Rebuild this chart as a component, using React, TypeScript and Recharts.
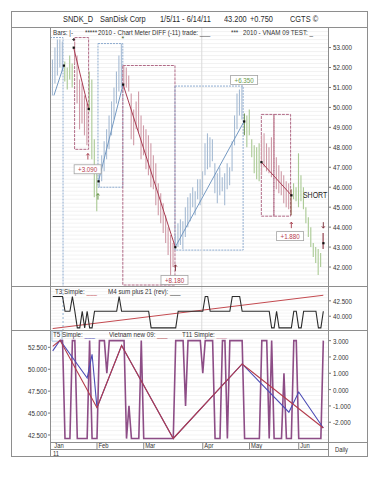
import React from "react";
import {
  ComposedChart,
  Bar,
  Line,
  XAxis,
  YAxis,
  CartesianGrid,
  ReferenceArea,
  ReferenceLine,
  ReferenceDot,
} from "recharts";

const FONT = '"Liberation Sans", Arial, Helvetica, sans-serif';
const SQ = 0.78; // the original lettering is horizontally squeezed

// ---- SNDK daily bars, 1/5/11 - 6/14/11 (111 sessions)
const highs = [
  52.4, 53.0, 53.4, 53.4, 53.3,
  52.3, 52.0, 52.6, 52.2,
  53.3, 52.6, 51.4, 51.2, 50.6, 50.2,
  51.8, 51.4, 48.4, 46.8,
  47.0, 47.6, 48.3, 48.9, 49.6, 50.3, 51.0, 51.8, 52.6, 53.2,
  52.1, 52.0, 51.6, 50.7, 49.9, 50.3, 50.8, 49.6, 49.1, 48.9, 48.6,
  48.2, 47.6, 47.2, 46.2, 45.7, 45.2, 44.6, 44.0, 43.6, 43.2,
  43.6, 44.2, 44.4, 44.3, 45.0, 45.5, 45.7, 46.0, 45.8, 46.4, 46.4, 46.8,
  48.2, 48.7, 48.5, 48.4, 47.2, 46.7, 47.0, 46.5, 46.7, 47.2, 47.0, 48.3,
  49.6, 50.7, 50.9, 51.1,
  49.7, 49.6, 49.9, 48.4, 48.1, 48.0, 48.2,
  48.6, 48.7, 48.2, 48.0, 48.5, 49.6, 47.5, 47.1, 46.8, 46.6, 46.3, 46.2, 45.9,
  46.2, 46.0, 47.7, 46.6, 46.0, 45.0, 44.5, 44.0, 43.2, 43.0, 42.9, 42.7, 43.7,
];
const lows = [
  50.6, 51.2, 51.6, 52.0, 51.8,
  51.3, 50.9, 51.4, 51.0,
  52.2, 50.2, 48.9, 49.2, 48.6, 48.1,
  49.8, 47.4, 45.5, 44.8,
  46.0, 46.3, 46.8, 47.4, 47.9, 48.6, 49.4, 50.2, 50.8, 51.0,
  50.9, 51.0, 50.8, 48.4, 48.1, 48.9, 48.7, 47.4, 47.6, 46.9, 46.6,
  46.0, 45.9, 45.1, 44.6, 44.2, 43.7, 43.2, 42.6, 41.5, 42.0,
  42.9, 43.0, 43.1, 42.9, 43.5, 44.0, 44.3, 45.0, 44.6, 45.4, 45.1, 45.6,
  46.6, 46.9, 47.0, 47.3, 45.7, 45.2, 45.6, 45.8, 45.1, 45.9, 46.1, 46.8,
  48.1, 48.9, 49.6, 49.4,
  48.6, 48.0, 48.6, 47.5, 46.7, 46.4, 46.3,
  46.6, 47.0, 46.8, 46.7, 46.5, 46.9, 45.9, 45.7, 45.6, 45.2, 45.0, 44.9, 44.6,
  45.4, 45.3, 45.0, 45.3, 44.9, 44.2, 43.5, 43.0, 42.5, 42.2, 41.6, 42.0, 42.9,
];

// colour runs of the bars (first bar of each run)
const runStart = [0, 5, 9, 15, 19, 29, 50, 78, 79, 85, 97, 98, 110];
const runKind = ["up", "flat", "down", "flat", "up", "down", "up", "flatDark", "flat", "down", "downDark", "flat", "exit"];

// chart meter boxes
const boxFrom = [-1.1, 8.9, 18.4, 28.5, 49.7, 84.8, 89.9];
const boxTo = [4.2, 14.6, 28.5, 49.7, 77.4, 89.9, 96.7];
const boxLow = [41.0, 47.9, 46.0, 41.1, 42.85, 44.55, 44.55];
const boxHigh = [53.5, 53.5, 53.2, 52.1, 51.07, 49.65, 49.65];
const boxKind = ["up", "down", "up", "down", "up", "down", "down"];

// trend lines between pivots
const trendFromBar = [0.5, 8.5, 18.6, 28.6, 49.8, 84.8];
const trendFromAt = [50.6, 53.0, 46.3, 51.15, 43.0, 47.26];
const trendToBar = [4.5, 14.6, 28.6, 49.8, 77.8, 97];
const trendToAt = [52.1, 49.93, 51.15, 43.0, 49.3, 45.6];
const trendKind = ["up", "down", "up", "down", "up", "down"];

const dotBar = [4.5, 8.5, 14.6, 18.6, 28.6, 49.8, 77.8, 84.8, 97, 110];
const dotAt = [52.1, 53.0, 49.93, 46.3, 51.15, 43.0, 49.3, 47.26, 45.6, 43.2];

const gainText = ["+3.090", "+8.180", "+6.350", "+1.880"];
const gainBar = [14.2, 49.5, 77.8, 96.5];
const gainAt = [46.9, 41.35, 51.37, 43.55];
const gainColor = ["#b53b4c", "#b53b4c", "#6c9b4c", "#b53b4c"];

const arrowBar = [14.3, 18.4, 49.9, 97, 110];
const arrowAt = [47.54, 45.53, 41.96, 44.1, 44.1];
const arrowDir = [1, 1, 1, 1, -1];
const arrowColor = ["#a53a4a", "#5d8c3d", "#7a2a35", "#a53a4a", "#7a2a35"];

// T3 / M4 panel
const t3Line = [
  43.2, 43.2, 43.2, 43.2, 43.2,
  40.8, 40.8, 40.8,
  43.2,
  40.8, 38.1, 38.1, 40.8, 38.1, 40.8, 38.1, 38.1, 40.8,
  40.8, 40.8, 40.8, 40.8, 40.8, 40.8, 40.8, 40.8, 40.8,
  43.2,
  40.8, 40.8, 40.8, 40.8, 40.8, 40.8, 40.8, 40.8, 40.8, 40.8, 40.8, 40.8,
  38.1, 38.1, 38.1, 38.1, 38.1, 38.1, 38.1, 38.1, 38.1, 38.1, 38.1,
  40.8, 40.8, 40.8, 40.8, 40.8, 40.8, 40.8, 40.8, 40.8, 40.8, 40.8,
  43.2, 43.2,
  40.8, 40.8, 40.8, 40.8, 40.8, 40.8, 40.8, 40.8, 40.8,
  43.2, 43.2, 43.2, 43.2,
  40.8, 40.8, 40.8, 40.8, 40.8, 40.8, 40.8, 40.8, 40.8, 40.8, 40.8, 40.8,
  38.1, 38.1, 40.8, 38.1, 38.1, 38.1, 38.1, 38.1, 38.1, 40.8, 40.8, 38.1, 38.1, 40.8, 40.8,
  40.8, 40.8, 40.8, 40.8,
  38.1, 38.1, 40.8,
];
const t3TrendBar = [0, 110];
const t3TrendAt = [38.0, 43.4];

// T5 / Vietnam / T11 panel
const t11Osc = [
  null, null, null, 3, 3, -3, -3, -3, 3, 3, -3, -3, -3, -3, -3, 3, -3, -3, -3,
  3, 3, 3, 1, 3, 3, 3, 3, 3, 3, 3, -3, -1, -3, -3, -3, -3, 3,
  -3, -3, -3, -3, -3, -3, -3, -3, -3, -3, -3, -3, -3,
  3, 3, 3, 3, -1, 3, 3, 3, 3, 3, 3, 1, 3, 3, 3, 3, -3, -3, -3, 3, 3, -3,
  3, 3, 3, 3, 3, 3, -3, -3, -3, -3, -3, -3, -3, 3, 3, 3, -3, 3,
  -3, -3, -3, -3, 1, -3, -3, -3, 3, 3,
  -3, -3, -3, -3, -3, -3, -3, -3, -3, -3, 3,
];
const vnPivotBar = [0, 3, 18, 28, 49, 77, 110];
const vnPivotAt = [52.6, 53.3, 45.6, 52.7, 42.1, 50.6, 43.3];
const t5PivotBar = [0, 3, 14, 16, 18, 28, 49, 77, 96, 100, 110];
const t5PivotAt = [52.1, 53.3, 49.0, 51.7, 45.6, 52.7, 42.1, 50.6, 45.1, 47.4, 43.3];

const monthLabels = ["Jan", "Feb", "Mar", "Apr", "May", "Jun"];
const monthBar = [0, 18, 37, 61, 80, 100];
const quarterBar = 60.6;

const priceTicks = [42, 43, 44, 45, 46, 47, 48, 49, 50, 51, 52, 53];
const t3Ticks = [40, 42.5];
const t5LeftTicks = [42.5, 45, 47.5, 50, 52.5];
const t5RightTicks = [-2, -1, 0, 1, 2, 3];

const X_DOMAIN: [number, number] = [-1.1, 111.9];

const colors: Record<string, string> = {
  up: "#a6bbd3",
  down: "#cf9aa7",
  flat: "#a9c993",
  flatDark: "#6e9355",
  downDark: "#8e5b47",
  exit: "#8b3340",
};
const boxStroke: Record<string, string> = { up: "#8dabcf", down: "#b06a86" };
const trendStroke: Record<string, string> = { up: "#7499c2", down: "#a83c52" };

const pivotValue = (bars: number[], vals: number[], i: number) => {
  const k = bars.indexOf(i);
  return k < 0 ? null : vals[k];
};

const rows = highs.map((h, i) => {
  let k = 0;
  runStart.forEach((s, j) => {
    if (i >= s) k = j;
  });
  return {
    i,
    hl: [lows[i], h],
    kind: runKind[k],
    t3: t3Line[i],
    t3trend: pivotValue(t3TrendBar, t3TrendAt, i),
    osc: t11Osc[i],
    vn: pivotValue(vnPivotBar, vnPivotAt, i),
    t5: pivotValue(t5PivotBar, t5PivotAt, i),
  };
});

const gridSteps = (from: number, to: number, step: number) => {
  const out: number[] = [];
  for (let v = from; v <= to + 1e-6; v += step) out.push(Math.round(v * 100) / 100);
  return out;
};
const mainGrid = gridSteps(41.2, 53.8, 0.2);
const t3Grid = gridSteps(38, 44.5, 0.5);
const t5Grid = gridSteps(42, 54, 0.5);

const PriceBar = (props: any) => {
  const { x, y, width, height, payload } = props;
  const cx = x + width / 2;
  const top = Math.min(y, y + height);
  const bot = Math.max(y, y + height);
  return <line x1={cx} x2={cx} y1={top} y2={bot} stroke={colors[payload.kind]} strokeWidth={1.1} />;
};

const AxisText = ({ x, y, anchor, children }: any) => (
  <g transform={`translate(${x},${y})`}>
    <text
      x={0}
      y={0}
      dy={2.9}
      fontSize={8}
      fontFamily={FONT}
      fill="#333"
      textAnchor={anchor}
      transform={`scale(${SQ},1)`}
    >
      {children}
    </text>
  </g>
);

const RightTick = (p: any) => (
  <AxisText x={p.x} y={p.y} anchor="start">
    {Number(p.payload.value).toFixed(3)}
  </AxisText>
);
const LeftTick = (p: any) => (
  <AxisText x={p.x} y={p.y} anchor="end">
    {Number(p.payload.value).toFixed(3)}
  </AxisText>
);

const MonthTick = (p: any) => {
  const k = monthBar.indexOf(p.payload.value);
  const { x, y } = p;
  return (
    <g>
      {k > 0 && <line x1={x} x2={x} y1={y} y2={y + 7} stroke="#888" strokeWidth={1} />}
      <g transform={`translate(${x + 1.5},${y + 5.6})`}>
        <text fontSize={7.5} fontFamily={FONT} fill="#333" transform={`scale(${SQ},1)`}>
          {monthLabels[k]}
        </text>
      </g>
    </g>
  );
};

const GainTag = ({ cx, cy, text, color }: any) => (
  <g>
    <rect x={cx - 13.5} y={cy - 4.5} width={27} height={9} fill="#fff" stroke="#a3a3a3" strokeWidth={0.8} />
    <g transform={`translate(${cx},${cy + 2.9})`}>
      <text textAnchor="middle" fontSize={8} fontFamily={FONT} fill={color} transform={`scale(${SQ},1)`}>
        {text}
      </text>
    </g>
  </g>
);

const Arrow = ({ cx, cy, dir, color }: any) => {
  const t = cy - dir * 3;
  const b = cy + dir * 3;
  return (
    <g stroke={color} strokeWidth={0.9} fill="none">
      <line x1={cx} x2={cx} y1={b} y2={t} />
      <polyline points={`${cx - 1.5},${t + dir * 1.8} ${cx},${t} ${cx + 1.5},${t + dir * 1.8}`} />
    </g>
  );
};

const Txt = ({ x, cy, size = 8, color = "#333", children }: any) => (
  <div
    style={{
      position: "absolute",
      left: x,
      top: cy - size * 0.49,
      fontSize: size,
      lineHeight: `${size}px`,
      color,
      whiteSpace: "pre",
      transform: `scaleX(${SQ})`,
      transformOrigin: "0 0",
      fontFamily: FONT,
    }}
  >
    {children}
  </div>
);

const hLine = (left: number, top: number, width: number) => (
  <div style={{ position: "absolute", left, top, width, height: 1, background: "#8e8e8e" }} />
);
const vLine = (left: number, top: number, height: number) => (
  <div style={{ position: "absolute", left, top, width: 1, height, background: "#8e8e8e" }} />
);

export default function App() {
  return (
    <div
      style={{
        position: "absolute",
        left: 0,
        top: 0,
        width: 378,
        height: 490,
        background: "#fff",
        fontFamily: FONT,
      }}
    >
      {/* price panel */}
      <div style={{ position: "absolute", left: 11, top: 27 }}>
        <ComposedChart width={357} height={260} data={rows} margin={{ top: 0, right: 0, bottom: 0, left: 39 }}>
          <CartesianGrid stroke="#ececec" strokeWidth={0.7} vertical={false} horizontalValues={mainGrid} />
          <XAxis dataKey="i" type="number" domain={X_DOMAIN} allowDataOverflow hide />
          <YAxis
            orientation="right"
            width={40}
            domain={[41.0, 54.03]}
            allowDataOverflow
            ticks={priceTicks}
            interval={0}
            tick={<RightTick />}
            tickSize={3}
            tickMargin={2}
            axisLine={false}
            tickLine={{ stroke: "#777" }}
          />
          <ReferenceLine x={quarterBar} stroke="#dadada" ifOverflow="hidden" />
          {boxFrom.map((b, k) => (
            <ReferenceArea
              key={`box${k}`}
              x1={b}
              x2={boxTo[k]}
              y1={boxLow[k]}
              y2={boxHigh[k]}
              fill="none"
              stroke={boxStroke[boxKind[k]]}
              strokeWidth={1}
              strokeDasharray={boxKind[k] === "up" ? "2 1" : "3 1"}
              ifOverflow="hidden"
            />
          ))}
          <Bar dataKey="hl" barSize={2} shape={PriceBar} isAnimationActive={false} />
          {trendFromBar.map((b, k) => (
            <ReferenceLine
              key={`tr${k}`}
              segment={[
                { x: b, y: trendFromAt[k] },
                { x: trendToBar[k], y: trendToAt[k] },
              ]}
              stroke={trendStroke[trendKind[k]]}
              strokeWidth={1}
              ifOverflow="hidden"
            />
          ))}
          {dotBar.map((b, k) => (
            <ReferenceDot
              key={`dot${k}`}
              x={b}
              y={dotAt[k]}
              r={1}
              shape={(p: any) => <rect x={p.cx - 1} y={p.cy - 1} width={2.2} height={2.2} fill="#111" />}
            />
          ))}
          {arrowBar.map((b, k) => (
            <ReferenceDot
              key={`ar${k}`}
              x={b}
              y={arrowAt[k]}
              r={1}
              shape={(p: any) => <Arrow cx={p.cx} cy={p.cy} dir={arrowDir[k]} color={arrowColor[k]} />}
            />
          ))}
          {gainBar.map((b, k) => (
            <ReferenceDot
              key={`gain${k}`}
              x={b}
              y={gainAt[k]}
              r={1}
              shape={(p: any) => <GainTag cx={p.cx} cy={p.cy} text={gainText[k]} color={gainColor[k]} />}
            />
          ))}
          <ReferenceDot
            x={8.5}
            y={53.4}
            r={1}
            shape={(p: any) => (
              <g stroke="#222" strokeWidth={0.8}>
                <line x1={p.cx - 1.5} x2={p.cx + 1.5} y1={p.cy} y2={p.cy} />
                <line x1={p.cx} x2={p.cx} y1={p.cy - 1.5} y2={p.cy + 1.5} />
              </g>
            )}
          />
          <ReferenceDot
            x={28.5}
            y={53.46}
            r={1}
            shape={(p: any) => (
              <text x={p.cx} y={p.cy + 3} textAnchor="middle" fontSize={7} fill="#3a5a2a" fontFamily={FONT}>
                *
              </text>
            )}
          />
          <ReferenceDot
            x={101.7}
            y={45.63}
            r={1}
            shape={(p: any) => (
              <g transform={`translate(${p.cx},${p.cy + 3})`}>
                <text fontSize={9} fill="#222" fontFamily={FONT} transform={`scale(${SQ},1)`}>
                  SHORT
                </text>
              </g>
            )}
          />
        </ComposedChart>
      </div>

      {/* T3 / M4 panel */}
      <div style={{ position: "absolute", left: 11, top: 287 }}>
        <ComposedChart width={357} height={44} data={rows} margin={{ top: 0, right: 0, bottom: 0, left: 39 }}>
          <CartesianGrid stroke="#efefef" strokeWidth={0.7} vertical={false} horizontalValues={t3Grid} />
          <XAxis dataKey="i" type="number" domain={X_DOMAIN} allowDataOverflow hide />
          <YAxis
            orientation="right"
            width={40}
            domain={[37.6, 44.74]}
            allowDataOverflow
            ticks={t3Ticks}
            interval={0}
            tick={<RightTick />}
            tickSize={3}
            tickMargin={2}
            axisLine={false}
            tickLine={{ stroke: "#777" }}
          />
          <ReferenceLine x={quarterBar} stroke="#dadada" ifOverflow="hidden" />
          <ReferenceLine x={4.2} stroke="#8fb0d0" strokeDasharray="2 2" ifOverflow="hidden" />
          <Line
            dataKey="t3trend"
            connectNulls
            stroke="#c44a50"
            strokeWidth={1}
            dot={false}
            isAnimationActive={false}
          />
          <Line dataKey="t3" stroke="#2b2b2b" strokeWidth={1.1} dot={false} isAnimationActive={false} />
        </ComposedChart>
      </div>

      {/* T5 / T11 panel with the date axis */}
      <div style={{ position: "absolute", left: 11, top: 331 }}>
        <ComposedChart width={357} height={126} data={rows} margin={{ top: 0, right: 0, bottom: 0, left: 0 }}>
          <CartesianGrid
            yAxisId="l"
            stroke="#ececec"
            strokeWidth={0.7}
            vertical={false}
            horizontalValues={t5Grid}
          />
          <XAxis
            dataKey="i"
            type="number"
            domain={X_DOMAIN}
            allowDataOverflow
            ticks={monthBar}
            interval={0}
            height={15}
            tick={<MonthTick />}
            tickLine={false}
            axisLine={false}
            tickSize={0}
            tickMargin={0}
          />
          <YAxis
            yAxisId="l"
            orientation="left"
            width={39}
            domain={[41.7, 54.36]}
            allowDataOverflow
            ticks={t5LeftTicks}
            interval={0}
            tick={<LeftTick />}
            tickSize={2}
            tickMargin={1}
            axisLine={false}
            tickLine={{ stroke: "#777" }}
          />
          <YAxis
            yAxisId="r"
            orientation="right"
            width={40}
            domain={[-3.21, 3.59]}
            allowDataOverflow
            ticks={t5RightTicks}
            interval={0}
            tick={<RightTick />}
            tickSize={3}
            tickMargin={2}
            axisLine={false}
            tickLine={{ stroke: "#777" }}
          />
          <ReferenceArea
            yAxisId="l"
            x1={-0.3}
            x2={3.8}
            y1={53.2}
            y2={54.36}
            fill="none"
            stroke="#a6c4e2"
            ifOverflow="hidden"
          />
          <Line
            yAxisId="r"
            dataKey="osc"
            stroke="#8d4d86"
            strokeWidth={1.6}
            dot={false}
            isAnimationActive={false}
          />
          <Line
            yAxisId="l"
            dataKey="t5"
            connectNulls
            stroke="#4b4bb5"
            strokeWidth={1.1}
            dot={false}
            isAnimationActive={false}
          />
          <Line
            yAxisId="l"
            dataKey="vn"
            connectNulls
            stroke="#b33b4b"
            strokeWidth={1.1}
            dot={false}
            isAnimationActive={false}
          />
        </ComposedChart>
      </div>

      {/* frame */}
      <div
        style={{
          position: "absolute",
          left: 11,
          top: 11,
          width: 357,
          height: 446,
          border: "1px solid #8e8e8e",
          boxSizing: "border-box",
        }}
      />
      {hLine(11, 27, 357)}
      {hLine(11, 286, 357)}
      {hLine(11, 330, 357)}
      {hLine(50, 442, 318)}
      {hLine(50, 449, 278)}
      {vLine(50, 27, 430)}
      {vLine(328, 27, 430)}

      {/* title */}
      <Txt x={63} cy={18.5} size={9.5} color="#2a2a2a">SNDK_D</Txt>
      <Txt x={100} cy={18.5} size={9.5} color="#2a2a2a">SanDisk Corp</Txt>
      <Txt x={160} cy={18.5} size={9.5} color="#2a2a2a">1/5/11 - 6/14/11</Txt>
      <Txt x={224} cy={18.5} size={9.5} color="#2a2a2a">43.200</Txt>
      <Txt x={250} cy={18.5} size={9.5} color="#2a2a2a">+0.750</Txt>
      <Txt x={290} cy={18.5} size={9.5} color="#2a2a2a">CGTS ©</Txt>

      {/* panel captions */}
      <Txt x={53} cy={32.5}>Bars: |-</Txt>
      <Txt x={85} cy={32.5}>*****</Txt>
      <Txt x={97.7} cy={32.5}>2010 - Chart Meter DIFF (-11) trade: ___</Txt>
      <Txt x={230.7} cy={32.5}>***</Txt>
      <Txt x={242.7} cy={32.5}>2010 - VNAM 09 TEST: _</Txt>

      <Txt x={55} cy={291.7}>
        T3 Simple: <span style={{ color: "#c44a50" }}>___</span>
      </Txt>
      <Txt x={108.3} cy={291.7}>
        M4 sum plus 21 (rev): <span style={{ color: "#222" }}>___</span>
      </Txt>
      <Txt x={53.3} cy={335}>
        T5 Simple: <span style={{ color: "#4b4bb5" }}>___</span>
      </Txt>
      <Txt x={109.3} cy={335}>
        Vietnam new 09: <span style={{ color: "#b33b4b" }}>___</span>
      </Txt>
      <Txt x={181.7} cy={335}>
        T11 Simple: <span style={{ color: "#d08aa0" }}>___</span>
      </Txt>

      <Txt x={53.3} cy={453.6} size={7.5}>11</Txt>
      <Txt x={335} cy={450} size={7.5}>Daily</Txt>
    </div>
  );
}
